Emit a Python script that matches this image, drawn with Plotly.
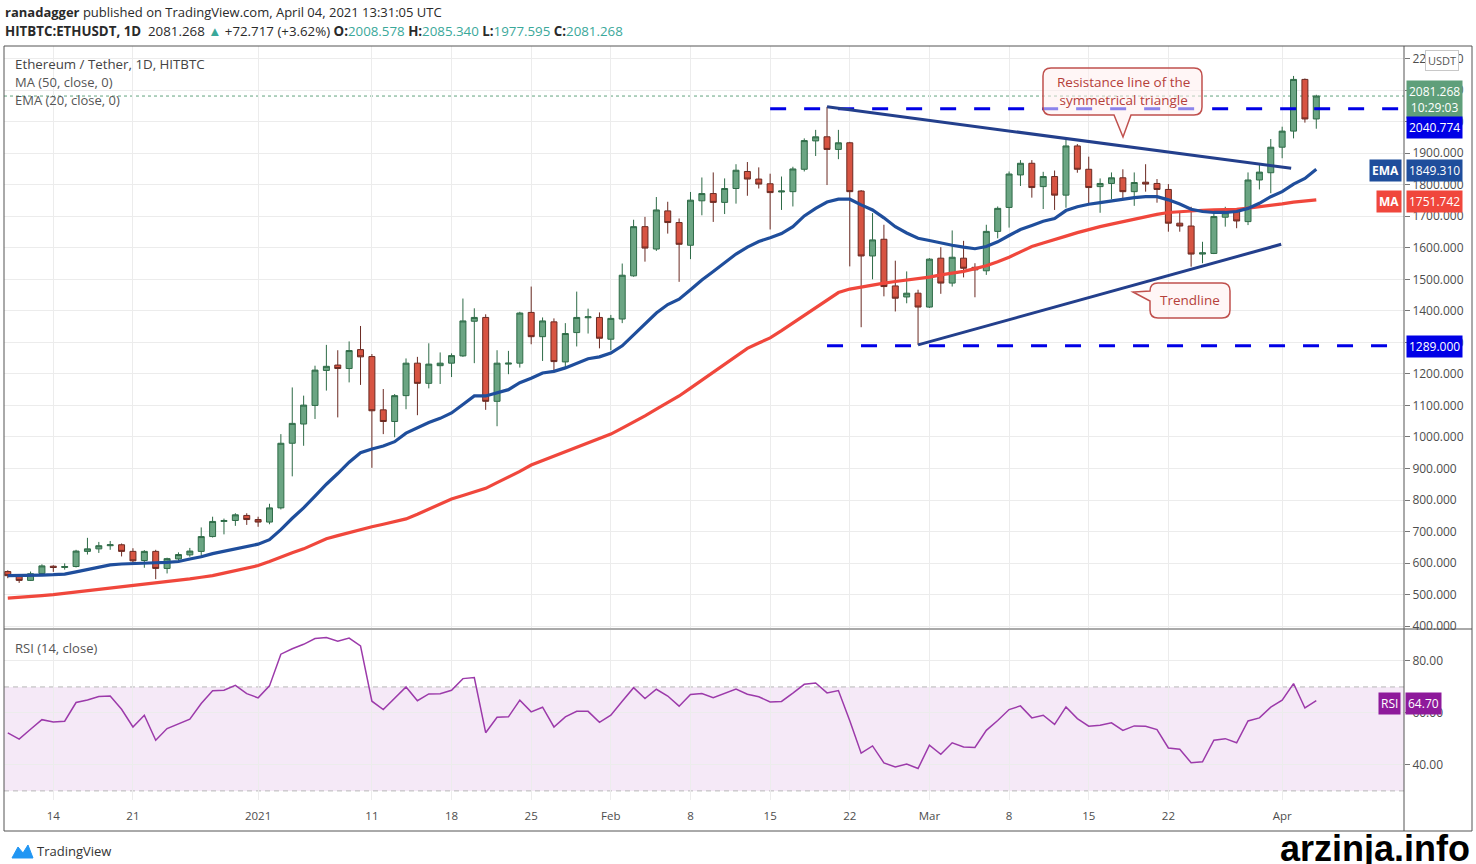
import pandas as pd
import plotly.graph_objs as go

# daily candles, Dec 10 2020 -> Apr 4 2021 (HITBTC ETH/USDT)
dates = pd.date_range("2020-12-10", "2021-04-04", freq="D")

open_ = [
    573, 560, 545, 567, 590, 586, 589, 637, 645, 655, 658, 637, 608, 637, 583, 613, 626, 637, 684, 732, 735, 751,
    738, 730, 775, 980, 1041, 1100, 1211, 1228, 1217, 1277, 1255, 1086, 1049, 1131, 1234, 1170, 1226, 1234, 1257, 1367,
    1379, 1113, 1231, 1234, 1395, 1318, 1365, 1238, 1331, 1378, 1379,
    1310, 1374, 1511, 1667, 1596, 1717, 1680, 1608, 1749, 1772, 1744, 1788, 1842, 1818, 1803, 1777, 1778, 1849, 1939, 1952,
    1912, 1933, 1780, 1574, 1627, 1479, 1444, 1456,
    1412, 1567, 1488, 1567, 1538, 1527, 1652, 1728, 1831, 1868, 1794, 1826, 1767, 1923, 1849, 1794, 1804, 1822, 1778, 1808,
    1804, 1785, 1678, 1669, 1580, 1582, 1697, 1715, 1683, 1815, 1838,
    1919, 1970, 2134, 2008.578]
high = [
    577, 563, 573, 596, 593, 599, 642, 680, 667, 670, 662, 647, 641, 642, 617, 634, 648, 713, 747, 741, 758, 758,
    747, 788, 1009, 1157, 1131, 1226, 1292, 1275, 1303, 1352, 1263, 1152, 1136, 1249, 1254, 1297, 1268, 1265, 1439, 1408,
    1389, 1275, 1273, 1397, 1477, 1379, 1376, 1361, 1461, 1407, 1395,
    1387, 1550, 1689, 1698, 1761, 1746, 1693, 1777, 1823, 1839, 1820, 1865, 1872, 1855, 1835, 1826, 1857, 1947, 1974, 2047,
    1974, 1936, 1783, 1710, 1673, 1559, 1525, 1467,
    1567, 1602, 1655, 1622, 1551, 1673, 1731, 1842, 1878, 1878, 1841, 1845, 1942, 1929, 1889, 1820, 1839, 1849, 1839, 1865,
    1818, 1802, 1715, 1730, 1619, 1711, 1730, 1725, 1839, 1863, 1945,
    1984, 2145, 2137, 2085.340]
low = [
    552, 537, 543, 563, 572, 579, 586, 627, 632, 642, 621, 596, 585, 549, 567, 607, 620, 621, 681, 691, 718, 721,
    715, 723, 770, 875, 972, 1057, 1147, 1062, 1173, 1165, 902, 1009, 999, 1088, 1069, 1154, 1168, 1190, 1254, 1234,
    1086, 1034, 1199, 1220, 1294, 1241, 1210, 1220, 1287, 1328, 1281,
    1275, 1361, 1508, 1556, 1590, 1645, 1492, 1564, 1703, 1682, 1707, 1740, 1765, 1788, 1658, 1720, 1731, 1842, 1891, 1799,
    1881, 1541, 1348, 1500, 1446, 1398, 1424, 1292,
    1409, 1454, 1477, 1506, 1443, 1514, 1630, 1664, 1796, 1759, 1723, 1720, 1727, 1838, 1741, 1711, 1754, 1754, 1733, 1778,
    1743, 1651, 1651, 1540, 1551, 1580, 1667, 1662, 1672, 1785, 1773,
    1884, 1947, 1997, 1977.595]
close = [
    560, 545, 566, 591, 586, 589, 638, 645, 655, 658, 637, 607, 637, 583, 614, 627, 638, 684, 732, 735, 753, 738,
    730, 775, 980, 1043, 1101, 1212, 1224, 1217, 1274, 1254, 1083, 1049, 1131, 1234, 1170, 1231, 1234, 1258, 1368, 1379,
    1113, 1234, 1234, 1393, 1318, 1368, 1239, 1328, 1379, 1381, 1313,
    1376, 1513, 1667, 1599, 1720, 1680, 1611, 1751, 1772, 1744, 1788, 1846, 1818, 1802, 1775, 1780, 1850, 1940, 1952, 1912,
    1933, 1778, 1574, 1625, 1477, 1440, 1456, 1412,
    1564, 1488, 1570, 1535, 1530, 1652, 1725, 1834, 1868, 1791, 1826, 1767, 1923, 1849, 1791, 1804, 1822, 1778, 1807, 1802,
    1785, 1678, 1669, 1580, 1584, 1699, 1711, 1685, 1815, 1840, 1919,
    1970, 2134, 2008.578, 2081.268]

# indicator values
ema20 = [
    560, 560, 561, 562, 563, 565, 572, 580, 588, 594, 597, 599, 600, 601, 602, 605, 613, 620, 630, 637, 645, 652,
    660, 674, 706, 742, 775, 812, 850, 884, 920, 950, 962, 971, 985, 1012, 1028, 1046, 1059, 1076, 1103, 1130,
    1130, 1140, 1150, 1172, 1186, 1203, 1208, 1219, 1234, 1248, 1254,
    1266, 1289, 1324, 1356, 1393, 1420, 1437, 1467, 1498, 1525, 1551, 1580, 1602, 1620, 1632, 1645, 1667, 1701, 1725, 1745,
    1754, 1754, 1736, 1720, 1695, 1667, 1647, 1630,
    1623, 1615, 1608, 1602, 1597, 1604, 1619, 1639, 1658, 1671, 1684, 1693, 1718, 1730, 1738, 1743, 1749, 1754, 1759, 1762,
    1762, 1752, 1739, 1722, 1715, 1712, 1712, 1715, 1725, 1741, 1762,
    1778, 1802, 1820, 1849.31]
ma50 = [
    489, 491, 494, 497, 500, 504, 508, 512, 516, 520, 524, 528, 532, 536, 541, 546, 550, 555, 560, 568, 576, 584,
    592, 605, 620, 633, 645, 661, 677, 687, 697, 706, 715, 723, 731, 740, 755, 771, 787, 803, 814, 826,
    837, 855, 872, 891, 911, 925, 939, 953, 967, 981, 995,
    1009, 1028, 1047, 1067, 1088, 1109, 1130, 1155, 1180, 1204, 1230, 1256, 1281, 1298, 1314, 1337, 1361, 1385, 1409, 1435,
    1458, 1469, 1476, 1483, 1488, 1493, 1497, 1501,
    1507, 1514, 1520, 1525, 1534, 1543, 1556, 1570, 1587, 1604, 1615, 1625, 1637, 1648, 1658, 1667, 1675, 1683, 1691, 1699,
    1706, 1712, 1715, 1718, 1719, 1720, 1721, 1722, 1726, 1730, 1734,
    1739, 1745, 1748, 1751.742]
rsi = [
    52.3, 49.9, 53.7, 57.4, 56.5, 56.8, 64.0, 65.0, 66.3, 66.5, 61.4, 54.6, 59.1, 49.5, 54.0, 55.9, 57.6, 63.6, 68.5, 68.7, 70.6, 67.4,
    65.8, 70.4, 82.6, 84.7, 86.4, 88.6, 89.0, 87.6, 88.8, 85.8, 64.5, 61.3, 65.8, 70.0, 64.7, 67.3, 67.4, 68.7, 73.2, 73.6,
    52.4, 58.3, 58.5, 64.9, 60.4, 62.2, 54.6, 58.5, 60.6, 60.6, 56.4,
    59.1, 64.5, 69.7, 65.5, 69.1, 66.5, 62.6, 67.1, 67.5, 65.9, 67.4, 69.2, 67.2, 66.2, 64.2, 64.4, 67.6, 71.0, 71.5, 67.7,
    68.6, 57.0, 44.5, 47.3, 40.8, 39.2, 40.3, 38.6,
    47.6, 44.1, 48.5, 46.9, 46.7, 53.3, 57.1, 61.3, 62.7, 58.1, 59.1, 55.6, 62.3, 57.8, 54.9, 55.3, 56.2, 53.3, 55.0, 54.9,
    53.6, 46.5, 46.0, 40.8, 41.2, 49.5, 50.1, 48.5, 56.9, 58.1, 62.2,
    64.9, 71.3, 61.9, 64.7]

# drawings on the chart
resist_level = 2040.774
support_level = 1289.0
resist_start = "2021-02-15"
support_start = "2021-02-20"
tri_x = ["2021-02-20", "2021-04-01 19:00"]
tri_y = [2047, 1852]
trend_x = ["2021-02-28", "2021-03-31 22:00"]
trend_y = [1292, 1611]

tick_dates = ["2020-12-14", "2020-12-21", "2021-01-01", "2021-01-11", "2021-01-18", "2021-01-25",
              "2021-02-01", "2021-02-08", "2021-02-15", "2021-02-22", "2021-03-01", "2021-03-08",
              "2021-03-15", "2021-03-22", "2021-04-01"]
tick_text = ["14", "21", "2021", "11", "18", "25", "Feb", "8", "15", "22", "Mar", "8", "15", "22", "Apr"]
price_ticks = list(range(400, 2300, 100))

x_range = ["2020-12-09 16:00", "2021-04-11 17:00"]

# page geometry (pixels)
W, H = 1476, 864
ML, MR, MT, MB = 4, 72, 46, 64
PW, PH = W - ML - MR, H - MT - MB


def px(x):
    return (x - ML) / PW


def py(y):
    return (H - MB - y) / PH


def path_px(points):
    # points: list of (cmd, [(x, y), ...]) in pixels -> svg path in paper coords
    out = []
    for cmd, pts in points:
        coords = " ".join("%.5f,%.5f" % (px(a), py(b)) for a, b in pts)
        out.append(cmd + " " + coords if coords else cmd)
    return " ".join(out)


FONT = "Open Sans, Liberation Sans, sans-serif"
GREEN = "#6ba583"
RED = "#d75442"
EMA_C = "#1f4e9c"
MA_C = "#f0473c"
LINE_BLUE = "#0000e6"
TRI_C = "#233f8c"
RSI_C = "#9c3aaa"

data = []
data.append(go.Candlestick(
    x=dates, open=open_, high=high, low=low, close=close,
    increasing=dict(fillcolor=GREEN, line=dict(color="#2e6b47", width=1)),
    decreasing=dict(fillcolor=RED, line=dict(color="#6b2a22", width=1)),
    whiskerwidth=0, yaxis="y", hoverinfo="skip",
))
data.append(go.Scatter(x=dates, y=ma50, mode="lines", line=dict(color=MA_C, width=3.2), yaxis="y"))
data.append(go.Scatter(x=dates, y=ema20, mode="lines", line=dict(color=EMA_C, width=3.2), yaxis="y"))

# horizontal dashed levels and triangle lines
data.append(go.Scatter(x=[resist_start, x_range[1]], y=[resist_level, resist_level], mode="lines",
                       line=dict(color=LINE_BLUE, width=3, dash="16px,18px"), yaxis="y"))
data.append(go.Scatter(x=[support_start, x_range[1]], y=[support_level, support_level], mode="lines",
                       line=dict(color=LINE_BLUE, width=3, dash="16px,18px"), yaxis="y"))
data.append(go.Scatter(x=tri_x, y=tri_y, mode="lines", line=dict(color=TRI_C, width=3), yaxis="y"))
data.append(go.Scatter(x=trend_x, y=trend_y, mode="lines", line=dict(color=TRI_C, width=3), yaxis="y"))

data.append(go.Scatter(x=dates, y=rsi, mode="lines", line=dict(color=RSI_C, width=1.5), yaxis="y2"))

shapes = []
# last price dotted line
shapes.append(dict(type="line", xref="paper", yref="y", x0=0, x1=1, y0=close[-1], y1=close[-1],
                   line=dict(color="#62a37f", width=1, dash="dot"), layer="below"))
# rsi band
shapes.append(dict(type="rect", xref="paper", yref="y2", x0=0, x1=1, y0=30, y1=70,
                   fillcolor="rgba(156,39,176,0.10)", line=dict(width=0), layer="below"))
for lvl in (30, 70):
    shapes.append(dict(type="line", xref="paper", yref="y2", x0=0, x1=1, y0=lvl, y1=lvl,
                       line=dict(color="#b8b8b8", width=1, dash="5px,4px"), layer="below"))
# frame, pane separator, axis line through date strip
shapes.append(dict(type="rect", xref="paper", yref="paper", x0=px(4), x1=px(1472), y0=py(831), y1=py(46),
                   line=dict(color="#555", width=1)))
shapes.append(dict(type="line", xref="paper", yref="paper", x0=px(4), x1=px(1472), y0=py(629), y1=py(629),
                   line=dict(color="#555", width=1)))
shapes.append(dict(type="line", xref="paper", yref="paper", x0=px(1404), x1=px(1404), y0=py(831), y1=py(46),
                   line=dict(color="#555", width=1)))

# callout boxes
CALL_LINE = "#c0504d"
CALL_FILL = "rgba(255,238,238,0.55)"
callout1 = path_px([
    ("M", [(1051, 68)]), ("L", [(1194, 68)]), ("Q", [(1202, 68), (1202, 76)]),
    ("L", [(1202, 107)]), ("Q", [(1202, 115), (1194, 115)]),
    ("L", [(1131, 115)]), ("L", [(1123, 137)]), ("L", [(1114, 115)]),
    ("L", [(1051, 115)]), ("Q", [(1043, 115), (1043, 107)]),
    ("L", [(1043, 76)]), ("Q", [(1043, 68), (1051, 68)]), ("Z", []),
])
callout2 = path_px([
    ("M", [(1158, 283)]), ("L", [(1222, 283)]), ("Q", [(1230, 283), (1230, 291)]),
    ("L", [(1230, 310)]), ("Q", [(1230, 318), (1222, 318)]),
    ("L", [(1158, 318)]), ("Q", [(1150, 318), (1150, 310)]),
    ("L", [(1150, 301)]), ("L", [(1133, 292)]), ("L", [(1150, 291)]),
    ("Q", [(1150, 283), (1158, 283)]), ("Z", []),
])
for p in (callout1, callout2):
    shapes.append(dict(type="path", xref="paper", yref="paper", path=p,
                       fillcolor=CALL_FILL, line=dict(color=CALL_LINE, width=1.5)))

# tradingview logo mark
logo = path_px([("M", [(12, 858)]), ("L", [(18, 847)]), ("L", [(23, 853)]), ("L", [(28, 845)]),
                ("L", [(33, 858)]), ("Z", [])])
shapes.append(dict(type="path", xref="paper", yref="paper", path=logo, fillcolor="#2196f3",
                   line=dict(color="#2196f3", width=1)))

annotations = []


def note(text, x, y, size=12, color="#3c3c3c", xanchor="left", yanchor="middle", **kw):
    annotations.append(dict(text=text, xref="paper", yref="paper", x=px(x), y=py(y), xanchor=xanchor,
                            yanchor=yanchor, showarrow=False, align=kw.pop("align", "left"),
                            font=dict(family=kw.pop("family", FONT), size=size, color=color), **kw))


TEAL = "#3aa89a"
note("<b>ranadagger</b> published on TradingView.com, April 04, 2021 13:31:05 UTC", 3, 12, size=13, color="#2a2a2a")
note("<b>HITBTC:ETHUSDT, 1D</b>  2081.268 <span style='color:%s'>▲</span> +72.717 (+3.62%%) "
     "<b>O:</b><span style='color:%s'>2008.578</span> <b>H:</b><span style='color:%s'>2085.340</span> "
     "<b>L:</b><span style='color:%s'>1977.595</span> <b>C:</b><span style='color:%s'>2081.268</span>"
     % (TEAL, TEAL, TEAL, TEAL, TEAL), 3, 31, size=13.3, color="#2a2a2a")

note("Ethereum / Tether, 1D, HITBTC", 13, 64, size=13.3, color="#444")
note("MA (50, close, 0)", 13, 82, size=13, color="#555")
note("EMA (20, close, 0)", 13, 100, size=13, color="#555")
note("RSI (14, close)", 13, 648, size=13, color="#555")

note("Resistance line of the<br>symmetrical triangle", 1123, 91, size=13.5, color="#b5403a",
     xanchor="center", align="center")
note("Trendline", 1190, 300, size=13.5, color="#b5403a", xanchor="center")

note("TradingView", 35, 851, size=13, color="#333")
note("<b>arzinja.info</b>", 1472, 849, size=36, color="#000", xanchor="right",
     family="Liberation Sans Narrow, Liberation Sans, Arial, sans-serif")

# price labels on the right axis
LBL = dict(size=12, color="#ffffff")


def tag(text, x, y, bg, xanchor="left"):
    annotations.append(dict(text=text, xref="paper", yref="paper", x=px(x), y=py(y), xanchor=xanchor,
                            yanchor="middle", showarrow=False, bgcolor=bg, borderpad=2, align="center",
                            font=dict(family=FONT, **LBL)))


tag("%.3f<br>10:29:03" % close[-1], 1406, 100, "#5f9f7a")
tag("%.3f" % resist_level, 1406, 127, LINE_BLUE)
tag("<b>EMA</b>", 1402, 170, EMA_C, xanchor="right")
tag("%.3f" % ema20[-1], 1406, 170, EMA_C)
tag("<b>MA</b>", 1402, 201, MA_C, xanchor="right")
tag("%.3f" % ma50[-1], 1406, 201, MA_C)
tag("%.3f" % support_level, 1406, 346, LINE_BLUE)
tag("RSI", 1401, 703, "#8e1a9b", xanchor="right")
tag("%.2f" % rsi[-1], 1405, 703, "#8e1a9b")
annotations.append(dict(text="USDT", xref="paper", yref="paper", x=px(1442), y=py(61), xanchor="center",
                        yanchor="middle", showarrow=False, bgcolor="#ffffff", bordercolor="#c8c8c8",
                        borderwidth=1, borderpad=2, font=dict(family=FONT, size=11, color="#555")))

GRID = "#ececec"
AX_FONT = dict(family=FONT, size=12, color="#4d4d4d")

layout = go.Layout(
    width=W, height=H,
    margin=dict(l=ML, r=MR, t=MT, b=MB),
    paper_bgcolor="white", plot_bgcolor="white",
    showlegend=False,
    boxgap=0.25,
    xaxis=dict(
        type="date", range=x_range, anchor="y2",
        tickvals=tick_dates, ticktext=tick_text, ticks="",
        showgrid=True, gridcolor=GRID, gridwidth=1,
        zeroline=False, showline=False,
        tickfont=dict(family=FONT, size=11.5, color="#4d4d4d"),
        ticklabelstandoff=7,
        rangeslider=dict(visible=False),
    ),
    yaxis=dict(
        domain=[py(628), 1], range=[394, 2240], side="right",
        tickvals=price_ticks, tickformat=".3f", ticks="outside", ticklen=5, tickcolor="#777",
        showgrid=True, gridcolor=GRID, zeroline=False, showline=False,
        tickfont=AX_FONT,
    ),
    yaxis2=dict(
        domain=[0, py(630)], range=[26.5, 91.9], side="right",
        tickvals=[40, 60, 80], tickformat=".2f", ticks="outside", ticklen=5, tickcolor="#777",
        showgrid=True, gridcolor=GRID, zeroline=False, showline=False,
        tickfont=AX_FONT,
    ),
    shapes=shapes,
    annotations=annotations,
)

fig = go.Figure(data=data, layout=layout)
# the page's default body margin would push the figure off by 8px
fig.write_html("out.html", config=dict(displayModeBar=False),
               post_script="document.body.style.margin='0';document.body.style.overflow='hidden';")
